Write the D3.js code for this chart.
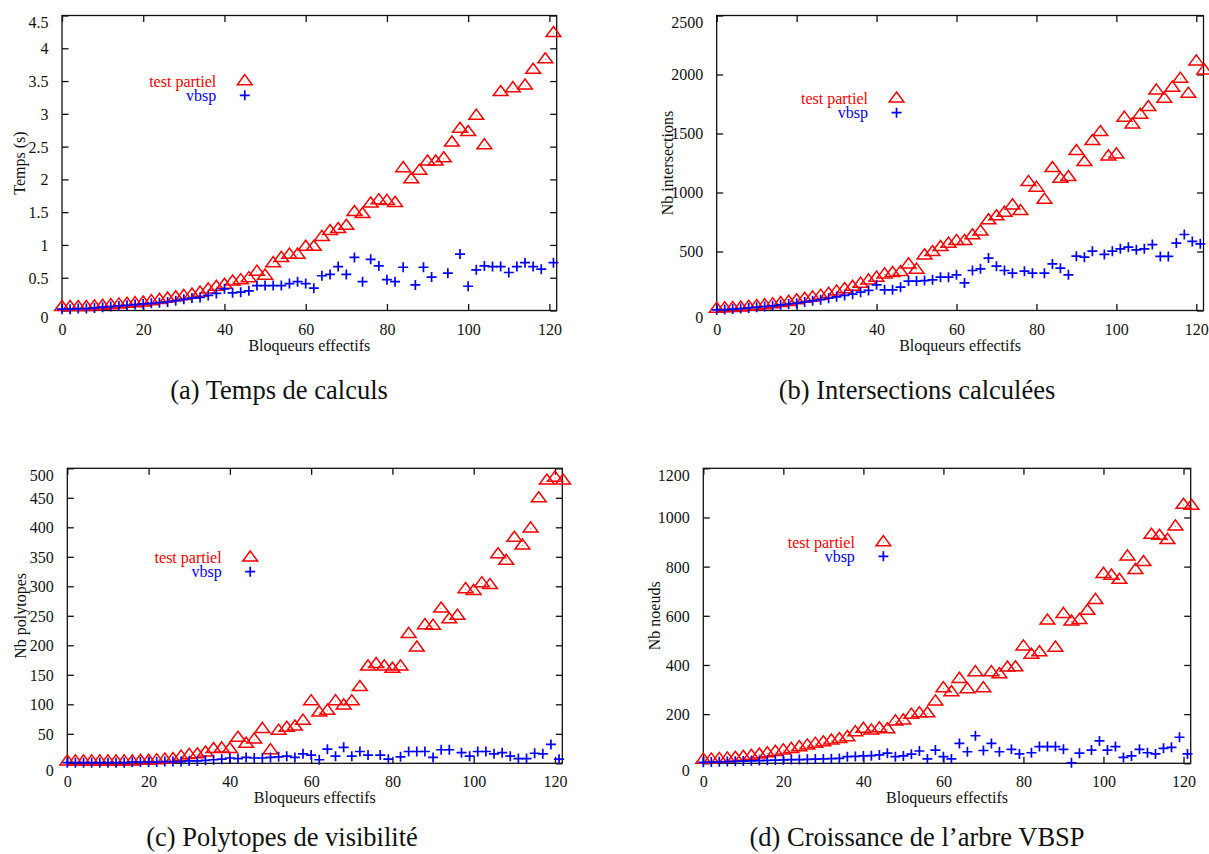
<!DOCTYPE html>
<html><head><meta charset="utf-8">
<script src="https://cdn.jsdelivr.net/npm/d3@7"></script>
<style>
body{margin:0;background:#fff}
svg{display:block}
text{font-family:"Liberation Serif","Times New Roman",serif;fill:#111}
</style>
</head><body>
<svg id="chart" width="1209" height="854"></svg>
<script>
// ---------- DATA ----------
const xTicks = [0, 20, 40, 60, 80, 100, 120];
const seriesNames = ["test partiel", "vbsp"];

// (a) Temps de calculs
const aYTicks = [0, 0.5, 1, 1.5, 2, 2.5, 3, 3.5, 4, 4.5];
const aTestX = [0,2,4,6,8,10,12,14,16,18,20,22,24,26,28,30,32,34,36,38,40,42,44,46,48,50,52,54,56,58,60,62,64,66,68,70,72,74,76,78,80,82,84,86,88,90,92,94,96,98,100,102,104,108,111,114,116,119,121];
const aTestY = [0.05,0.05,0.05,0.05,0.06,0.07,0.08,0.09,0.10,0.11,0.12,0.14,0.16,0.18,0.20,0.22,0.24,0.27,0.32,0.36,0.39,0.44,0.46,0.49,0.59,0.53,0.72,0.80,0.85,0.85,0.97,0.97,1.12,1.21,1.24,1.29,1.50,1.47,1.63,1.68,1.67,1.64,2.17,2.00,2.13,2.27,2.27,2.32,2.56,2.77,2.72,2.97,2.52,3.33,3.39,3.43,3.67,3.83,4.23];
const aVbspX = [0,2,4,6,8,10,12,14,16,18,20,22,24,26,28,30,32,34,36,38,40,42,44,46,48,50,52,54,56,58,60,62,64,66,68,70,72,74,76,78,80,82,84,87,89,91,95,98,100,102,104,106,108,110,112,114,116,118,121];
const aVbspY = [0.02,0.02,0.03,0.03,0.04,0.05,0.06,0.07,0.08,0.09,0.10,0.11,0.12,0.13,0.15,0.17,0.19,0.20,0.23,0.26,0.33,0.27,0.28,0.30,0.38,0.38,0.38,0.38,0.41,0.44,0.41,0.34,0.53,0.55,0.67,0.55,0.81,0.44,0.78,0.68,0.47,0.44,0.66,0.39,0.66,0.51,0.57,0.86,0.37,0.62,0.68,0.67,0.67,0.58,0.67,0.73,0.67,0.63,0.73];

// (b) Intersections calculées
const bYTicks = [0, 500, 1000, 1500, 2000, 2500];
const bTestX = [0,2,4,6,8,10,12,14,16,18,20,22,24,26,28,30,32,34,36,38,40,42,44,46,48,50,52,54,56,58,60,62,64,66,68,70,72,74,76,78,80,82,84,86,88,90,92,94,96,98,100,102,104,106,108,110,112,114,116,118,120,122];
const bTestY = [14,18,20,24,30,36,44,52,62,72,85,98,110,124,140,160,180,200,226,254,277,305,316,325,390,345,466,494,537,565,588,588,636,669,763,797,828,890,842,1088,1040,938,1206,1116,1130,1350,1257,1435,1511,1305,1322,1633,1576,1658,1723,1864,1794,1887,1963,1836,2110,2034];
const bVbspX = [0,2,4,6,8,10,12,14,16,18,20,22,24,26,28,30,32,34,36,38,40,42,44,46,48,50,52,54,56,58,60,62,64,66,68,70,72,74,77,79,82,84,86,88,90,92,94,97,99,101,103,105,107,109,111,113,115,117,119,121];
const bVbspY = [5,8,12,16,22,28,34,40,48,55,62,72,82,92,104,116,128,138,155,170,218,175,175,198,249,249,254,260,282,282,302,234,339,353,444,376,339,316,333,316,316,395,359,302,460,452,503,475,503,523,537,514,523,559,458,458,571,644,585,565];

// (c) Polytopes de visibilité
const cYTicks = [0, 50, 100, 150, 200, 250, 300, 350, 400, 450, 500];
const cTestX = [0,2,4,6,8,10,12,14,16,18,20,22,24,26,28,30,32,34,36,38,40,42,44,46,48,50,52,54,56,58,60,62,64,66,68,70,72,74,76,78,80,82,84,86,88,90,92,94,96,98,100,102,104,106,108,110,112,114,116,118,120,122];
const cTestY = [3,3,3,3,3,3,3,3,3,4,4,5,6,7,11,14,15,18,24,25,24,43,33,40,58,22,55,60,62,72,105,86,89,105,98,105,129,164,168,164,160,164,219,196,234,233,262,244,250,295,292,305,302,354,343,382,369,398,449,479,484,479];
const cVbspX = [0,2,4,6,8,10,12,14,16,18,20,22,24,26,28,30,32,34,36,38,40,42,44,46,48,50,52,54,56,58,60,62,64,66,68,70,72,74,77,79,82,84,86,88,90,92,94,97,99,101,103,105,107,109,111,113,115,117,119,121];
const cVbspY = [1,1,1,1,1,1,1,1,2,2,2,2,3,3,3,4,4,5,6,7,9,8,10,9,9,10,11,12,10,16,14,6,24,12,27,12,20,14,14,7,11,20,20,20,10,23,23,18,12,20,20,16,18,12,8,8,17,16,32,7];

// (d) Croissance de l'arbre VBSP
const dYTicks = [0, 200, 400, 600, 800, 1000, 1200];
const dTestX = [0,2,4,6,8,10,12,14,16,18,20,22,24,26,28,30,32,34,36,38,40,42,44,46,48,50,52,54,56,58,60,62,64,66,68,70,72,74,76,78,80,82,84,86,88,90,92,94,96,98,100,102,104,106,108,110,112,114,116,118,120,122];
const dTestY = [14,15,17,19,22,26,30,35,40,46,52,58,65,72,79,85,92,98,106,126,140,133,142,138,170,174,197,203,203,251,305,289,343,301,370,305,370,362,389,390,475,441,451,580,470,607,576,583,620,664,770,763,746,841,786,818,929,925,908,963,1051,1047];
const dVbspX = [0,2,4,6,8,10,12,14,16,18,20,22,24,26,28,30,32,34,36,38,40,42,44,46,48,50,52,54,56,58,60,62,64,66,68,70,72,74,77,79,82,84,86,88,90,92,94,97,99,101,103,105,107,109,111,113,115,117,119,121];
const dVbspY = [4,5,6,7,8,9,10,11,12,13,14,15,15,16,17,18,19,20,27,28,30,31,34,41,27,30,37,50,18,54,27,18,81,47,112,52,81,47,57,38,43,68,68,68,57,2,41,54,91,54,68,24,30,57,43,38,61,65,106,38];

// ---------- LAYOUT ----------
const X_MAX = 121.8;
const LEGEND_X = 45;
const panels = [
  {ylabel:"Temps (s)", caption:"(a) Temps de calculs", tx:aTestX, ty:aTestY, vx:aVbspX, vy:aVbspY, yTicks:aYTicks,
   box:{l:62, r:556.7, t:15.5, b:310.5}, ylabX:25, capX:279, capY:398.5, legDy:65.8},
  {ylabel:"Nb intersections", caption:"(b) Intersections calculées", tx:bTestX, ty:bTestY, vx:bVbspX, vy:bVbspY, yTicks:bYTicks,
   box:{l:716.7, r:1203.5, t:15.5, b:310.5}, ylabX:672.5, capX:917, capY:398.5, legDy:83.2},
  {ylabel:"Nb polytopes", caption:"(c) Polytopes de visibilité", tx:cTestX, ty:cTestY, vx:cVbspX, vy:cVbspY, yTicks:cYTicks,
   box:{l:67.3, r:562.3, t:468.3, b:763.3}, ylabX:25.8, capX:282, capY:845.5, legDy:89.4},
  {ylabel:"Nb noeuds", caption:"(d) Croissance de l\u2019arbre VBSP", tx:dTestX, ty:dTestY, vx:dVbspX, vy:dVbspY, yTicks:dYTicks,
   box:{l:703.3, r:1190.7, t:468.3, b:763.3}, ylabX:660, capX:917, capY:845.5, legDy:74}
];

const RED = "#ff0000", BLUE = "#0000ff";
const svg = d3.select("#chart");
const TICK = 6.5;

function triangle(g, x, y) {
  g.append("path")
    .attr("d", `M${x},${y-6.7}L${x+7.4},${y+3.4}L${x-7.4},${y+3.4}Z`)
    .attr("fill", "none").attr("stroke", RED).attr("stroke-width", 1.5)
    .attr("stroke-linejoin", "miter");
  g.append("rect").attr("x", x-0.5).attr("y", y-0.5).attr("width", 1).attr("height", 1)
    .attr("fill", RED).attr("opacity", 0.6);
}
function plus(g, x, y) {
  g.append("path")
    .attr("d", `M${x-5},${y}H${x+5}M${x},${y-5}V${y+5}`)
    .attr("fill", "none").attr("stroke", BLUE).attr("stroke-width", 1.7);
}

panels.forEach(p => {
  const B = p.box;
  const yMax = p.yTicks[p.yTicks.length - 1];
  const x = d3.scaleLinear().domain([0, X_MAX]).range([B.l, B.r]);
  const y = d3.scaleLinear().domain([0, yMax]).range([B.b, B.t]);
  const g = svg.append("g");

  const fmt = d => String(d);
  const axB = g.append("g").attr("transform", `translate(0,${B.b})`)
    .call(d3.axisBottom(x).tickValues(xTicks).tickSizeInner(-TICK).tickSizeOuter(0).tickPadding(TICK + 9).tickFormat(fmt));
  const axT = g.append("g").attr("transform", `translate(0,${B.t})`)
    .call(d3.axisTop(x).tickValues(xTicks).tickSizeInner(-TICK).tickSizeOuter(0).tickFormat(""));
  const axL = g.append("g").attr("transform", `translate(${B.l},0)`)
    .call(d3.axisLeft(y).tickValues(p.yTicks).tickSizeInner(-TICK).tickSizeOuter(0).tickPadding(TICK + 7).tickFormat(fmt));
  const axR = g.append("g").attr("transform", `translate(${B.r},0)`)
    .call(d3.axisRight(y).tickValues(p.yTicks).tickSizeInner(-TICK).tickSizeOuter(0).tickFormat(""));
  [axB, axT, axL, axR].forEach(a => {
    a.attr("font-family", null);
    a.select(".domain").remove();
    a.selectAll("line").attr("stroke", "#111").attr("stroke-width", 1.3);
    a.selectAll("text").attr("font-size", 16).attr("fill", "#111");
  });
  axB.selectAll("text").attr("dy", null).attr("y", 24);
  axL.selectAll("text").attr("dy", "0.34em");
  axL.selectAll("text").filter(d => d === 0 || d === yMax).attr("dy", "0.75em");

  // frame
  g.append("rect").attr("x", B.l).attr("y", B.t).attr("width", B.r - B.l).attr("height", B.b - B.t)
    .attr("fill", "none").attr("stroke", "#111").attr("stroke-width", 1.3);

  // labels
  g.append("text").attr("x", (B.l + B.r) / 2).attr("y", B.b + 40).attr("text-anchor", "middle")
    .attr("font-size", 16).text("Bloqueurs effectifs");
  g.append("text").attr("transform", `translate(${p.ylabX},${(B.t + B.b) / 2}) rotate(-90)`)
    .attr("text-anchor", "middle").attr("font-size", 16).text(p.ylabel);
  g.append("text").attr("x", p.capX).attr("y", p.capY).attr("text-anchor", "middle")
    .attr("font-size", 26.5).text(p.caption);

  // points: red first, blue on top
  const gr = g.append("g");
  p.tx.forEach((xv, i) => triangle(gr, x(xv), y(p.ty[i])));
  const gb = g.append("g");
  p.vx.forEach((xv, i) => plus(gb, x(xv), y(p.vy[i])));

  // legend
  const lx = x(LEGEND_X), ly1 = B.t + p.legDy, ly2 = ly1 + 14;
  triangle(g, lx, ly1);
  plus(g, lx, ly2);
  g.append("text").attr("x", lx - 28.5).attr("y", ly1 + 5.5).attr("text-anchor", "end")
    .attr("font-size", 16).style("fill", RED).text(seriesNames[0]);
  g.append("text").attr("x", lx - 28.5).attr("y", ly2 + 5.5).attr("text-anchor", "end")
    .attr("font-size", 16).style("fill", BLUE).text(seriesNames[1]);
});
</script>
</body></html>
